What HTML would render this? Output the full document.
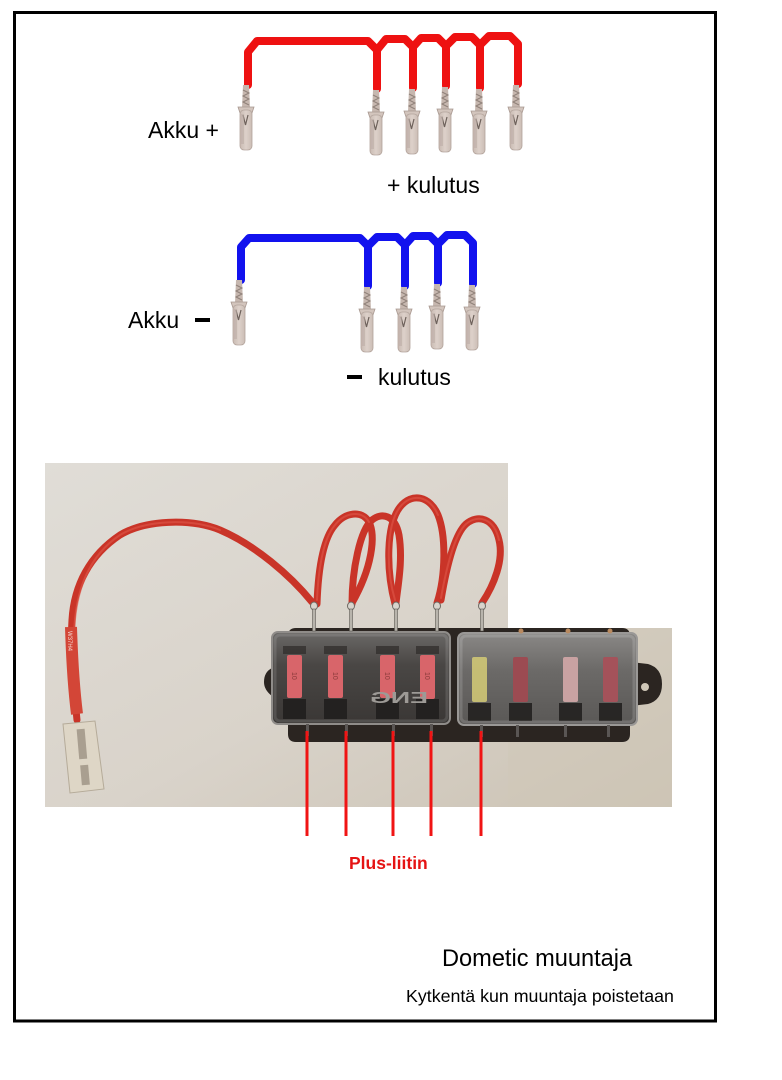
<!DOCTYPE html>
<html>
<head>
<meta charset="utf-8">
<style>
html,body{margin:0;padding:0;background:#fff;}
body{width:782px;height:1080px;overflow:hidden;position:relative;}
svg{position:absolute;left:0;top:0;}
text{font-family:"Liberation Sans",Arial,sans-serif;}
</style>
</head>
<body>
<svg width="782" height="1080" viewBox="0 0 782 1080" xmlns="http://www.w3.org/2000/svg">
<defs>
  <linearGradient id="bg" x1="0" y1="0" x2="1" y2="1">
    <stop offset="0" stop-color="#e0ddd7"/>
    <stop offset="0.55" stop-color="#d9d3ca"/>
    <stop offset="1" stop-color="#cbc2b3"/>
  </linearGradient>
  <linearGradient id="blade" x1="0" y1="0" x2="1" y2="0">
    <stop offset="0" stop-color="#c9bab2"/>
    <stop offset="0.5" stop-color="#ddd1ca"/>
    <stop offset="1" stop-color="#cbbdb5"/>
  </linearGradient>
  <linearGradient id="covL" x1="0" y1="0" x2="0" y2="1">
    <stop offset="0" stop-color="#6b6967"/>
    <stop offset="0.35" stop-color="#4a4745"/>
    <stop offset="1" stop-color="#3a3735"/>
  </linearGradient>
  <linearGradient id="covR" x1="0" y1="0" x2="0" y2="1">
    <stop offset="0" stop-color="#8a8886"/>
    <stop offset="0.4" stop-color="#6c6a68"/>
    <stop offset="1" stop-color="#5a5856"/>
  </linearGradient>
  <g id="term">
    <path d="M-3,-5 L3,-5 L4,18 L-4,18 Z" fill="#c6b7af"/>
    <polyline points="-3,0 3,3 -3,6 3,9 -3,12 3,15" fill="none" stroke="#8f8179" stroke-width="1"/>
    <path d="M-8,17 L8,17 L6,23 L-6,23 Z" fill="#d3c5bd" stroke="#a89890" stroke-width="0.8"/>
    <rect x="-6" y="20" width="12" height="40" rx="4" fill="url(#blade)" stroke="#b3a49c" stroke-width="0.8"/>
    <path d="M-3,25 L-0.5,35 L2,25" fill="none" stroke="#6d615b" stroke-width="1.2"/>
    <rect x="-5" y="24" width="3" height="30" fill="#bcaea6" opacity="0.6"/>
  </g>
  <g id="fterm">
    <ellipse cx="0" cy="4" rx="3.5" ry="4" fill="#d8d4cc" stroke="#6e6a64" stroke-width="1"/>
    <rect x="-1.5" y="7" width="3" height="22" fill="#b8b4ac" stroke="#5e5a54" stroke-width="0.6"/>
  </g>
</defs>

<!-- border -->
<rect x="14.5" y="12.5" width="701" height="1008.5" fill="#fff" stroke="#000" stroke-width="3"/>

<!-- RED top wiring -->
<g fill="none" stroke="#ee1111" stroke-width="8" stroke-linejoin="round" stroke-linecap="round">
  <path d="M248,85 V52 L257,41 H368 L377,50 V89"/>
  <path d="M377,50 L386,39 H405 L413,47 V88"/>
  <path d="M413,47 L421,38 H438 L446,46 V86"/>
  <path d="M446,46 L455,37 H472 L480,45 V88"/>
  <path d="M480,45 L489,36 H510 L518,44 V84"/>
</g>
<use href="#term" x="246" y="90"/>
<use href="#term" x="376" y="95"/>
<use href="#term" x="412" y="94"/>
<use href="#term" x="445" y="92"/>
<use href="#term" x="479" y="94"/>
<use href="#term" x="516" y="90"/>

<text x="148" y="138" font-size="23" fill="#000">Akku +</text>
<text x="387" y="193" font-size="23" fill="#000">+ kulutus</text>

<!-- BLUE wiring -->
<g fill="none" stroke="#1212ee" stroke-width="8" stroke-linejoin="round" stroke-linecap="round">
  <path d="M241,280 V247 L249,238 H360 L368,246 V286"/>
  <path d="M368,246 L377,237 H397 L405,245 V286"/>
  <path d="M405,245 L413,236 H430 L438,244 V283"/>
  <path d="M438,244 L447,235 H465 L473,243 V284"/>
</g>
<use href="#term" x="239" y="285"/>
<use href="#term" x="367" y="292"/>
<use href="#term" x="404" y="292"/>
<use href="#term" x="437" y="289"/>
<use href="#term" x="472" y="290"/>

<text x="128" y="328" font-size="23" fill="#000">Akku</text>
<rect x="195" y="318" width="15" height="4" fill="#000"/>
<rect x="347" y="375" width="15" height="4" fill="#000"/>
<text x="378" y="385" font-size="23" fill="#000">kulutus</text>

<!-- PHOTO -->
<path d="M45,463 H508 V628 H672 V807 H45 Z" fill="url(#bg)"/>
<path d="M508,628 H672 V807 H508 Z" fill="#cfc7b8" opacity="0.5"/>

<!-- fuse box base -->
<path d="M296,628 H622 Q630,628 630,636 V662 L648,664 Q662,668 662,684 Q662,700 648,704 L630,706 V734 Q630,742 622,742 H296 Q288,742 288,734 V700 L272,696 Q264,690 264,682 Q264,672 272,668 L288,664 V636 Q288,628 296,628 Z" fill="#2b2521"/>
<circle cx="645" cy="687" r="4" fill="#cfc7b8"/>

<!-- covers -->
<rect x="272" y="632" width="178" height="92" rx="6" fill="url(#covL)" stroke="#8f8c89" stroke-width="2"/>
<rect x="458" y="633" width="179" height="92" rx="6" fill="url(#covR)" stroke="#9a9896" stroke-width="2"/>
<!-- slot blocks -->
<g fill="#1f1d1c" opacity="0.85">
  <rect x="283" y="699" width="23" height="20"/>
  <rect x="324" y="699" width="23" height="20"/>
  <rect x="376" y="699" width="23" height="20"/>
  <rect x="416" y="699" width="23" height="20"/>
  <rect x="468" y="703" width="23" height="18"/>
  <rect x="509" y="703" width="23" height="18"/>
  <rect x="559" y="703" width="23" height="18"/>
  <rect x="599" y="703" width="23" height="18"/>
</g>
<g fill="#2e2b29" opacity="0.7">
  <rect x="283" y="646" width="23" height="8"/>
  <rect x="324" y="646" width="23" height="8"/>
  <rect x="376" y="646" width="23" height="8"/>
  <rect x="416" y="646" width="23" height="8"/>
</g>
<!-- fuses -->
<g>
  <rect x="287" y="655" width="15" height="43" rx="2" fill="#d8656a"/>
  <rect x="328" y="655" width="15" height="43" rx="2" fill="#d8656a"/>
  <rect x="380" y="655" width="15" height="43" rx="2" fill="#d8656a"/>
  <rect x="420" y="655" width="15" height="44" rx="2" fill="#d8656a"/>
  <rect x="472" y="657" width="15" height="45" rx="2" fill="#cfc676" opacity="0.9"/>
  <rect x="513" y="657" width="15" height="45" rx="2" fill="#9c4b52"/>
  <rect x="563" y="657" width="15" height="45" rx="2" fill="#c9a2a2"/>
  <rect x="603" y="657" width="15" height="45" rx="2" fill="#a4525a"/>
</g>
<g font-size="7" fill="#8a3a3a">
  <text transform="translate(292,672) rotate(90)">10</text>
  <text transform="translate(333,672) rotate(90)">10</text>
  <text transform="translate(385,672) rotate(90)">10</text>
  <text transform="translate(425,672) rotate(90)">10</text>
</g>
<text transform="translate(428,703) scale(-1,1)" font-size="16" font-weight="bold" fill="#9d9a96" textLength="58" lengthAdjust="spacingAndGlyphs">ENG</text>
<!-- cover rims highlight -->
<rect x="275" y="635" width="172" height="86" rx="5" fill="none" stroke="#ffffff" stroke-opacity="0.12" stroke-width="3"/>
<rect x="461" y="636" width="173" height="86" rx="5" fill="none" stroke="#ffffff" stroke-opacity="0.15" stroke-width="3"/>

<!-- pins under covers -->
<g fill="#5a5654">
  <rect x="306" y="724" width="3" height="12"/>
  <rect x="345" y="724" width="3" height="12"/>
  <rect x="392" y="724" width="3" height="12"/>
  <rect x="430" y="724" width="3" height="12"/>
  <rect x="480" y="725" width="3" height="12"/>
  <rect x="516" y="725" width="3" height="12"/>
  <rect x="564" y="725" width="3" height="12"/>
  <rect x="607" y="725" width="3" height="12"/>
</g>
<!-- right cover top studs -->
<g fill="#b98a60">
  <circle cx="521" cy="631" r="2.5"/>
  <circle cx="568" cy="631" r="2.5"/>
  <circle cx="610" cy="631" r="2.5"/>
</g>

<!-- loop wires -->
<g fill="none" stroke="#c93428" stroke-width="7" stroke-linecap="round">
  <path d="M317,604 C318,575 322,540 335,525 C345,512 362,510 369,522 C376,536 372,568 352,603"/>
  <path d="M352,604 C352,570 360,530 372,520 C382,512 395,515 399,535 C403,560 398,585 396,603"/>
  <path d="M395,604 C386,570 386,525 400,507 C412,492 430,496 438,515 C446,535 446,575 437,603"/>
  <path d="M441,600 C446,570 454,535 466,524 C478,514 494,518 499,540 C504,560 494,585 482,603"/>
  <path d="M77,720 C74,690 70,650 72,620 C74,585 90,555 120,535 C145,520 190,518 220,530 C255,545 290,575 312,602"/>
</g>
<g fill="none" stroke="#e0584a" stroke-width="2" stroke-linecap="round" opacity="0.6">
  <path d="M317,600 C318,575 322,540 335,525 C345,512 362,510 369,522"/>
  <path d="M395,600 C386,570 386,525 400,507 C412,492 430,496 438,515"/>
  <path d="M441,598 C446,570 454,535 466,524 C478,514 494,518 499,540"/>
  <path d="M74,640 C74,590 90,555 120,535 C145,520 190,518 220,530"/>
</g>
<!-- heat shrink -->
<path d="M71,627 C72,660 74,690 77,714" fill="none" stroke="#d34637" stroke-width="12" stroke-linecap="butt"/>
<text transform="translate(68,631) rotate(90)" font-size="6" fill="#f3d6cf">W37H4</text>
<!-- connector -->
<path d="M63,724 L95,721 L104,789 L70,793 Z" fill="#ded6c6" stroke="#b5ab99" stroke-width="1"/>
<rect x="78" y="729" width="8" height="30" fill="#a99f90" transform="rotate(-5 82 745)"/>
<rect x="81" y="765" width="8" height="20" fill="#a99f90" transform="rotate(-5 85 775)"/>

<!-- fuse box terminals -->
<use href="#fterm" x="314" y="602"/>
<use href="#fterm" x="351" y="602"/>
<use href="#fterm" x="396" y="602"/>
<use href="#fterm" x="437" y="602"/>
<use href="#fterm" x="482" y="602"/>

<!-- red plus lines -->
<g stroke="#f01414" stroke-width="3">
  <line x1="307" y1="731" x2="307" y2="836"/>
  <line x1="346" y1="731" x2="346" y2="836"/>
  <line x1="393" y1="731" x2="393" y2="836"/>
  <line x1="431" y1="731" x2="431" y2="836"/>
  <line x1="481" y1="731" x2="481" y2="836"/>
</g>

<text x="349" y="869" font-size="17.5" font-weight="bold" fill="#e51414">Plus-liitin</text>
<text x="442" y="966" font-size="23.6" fill="#000">Dometic muuntaja</text>
<text x="406" y="1002" font-size="17.8" fill="#000">Kytkentä kun muuntaja poistetaan</text>
</svg>
</body>
</html>
